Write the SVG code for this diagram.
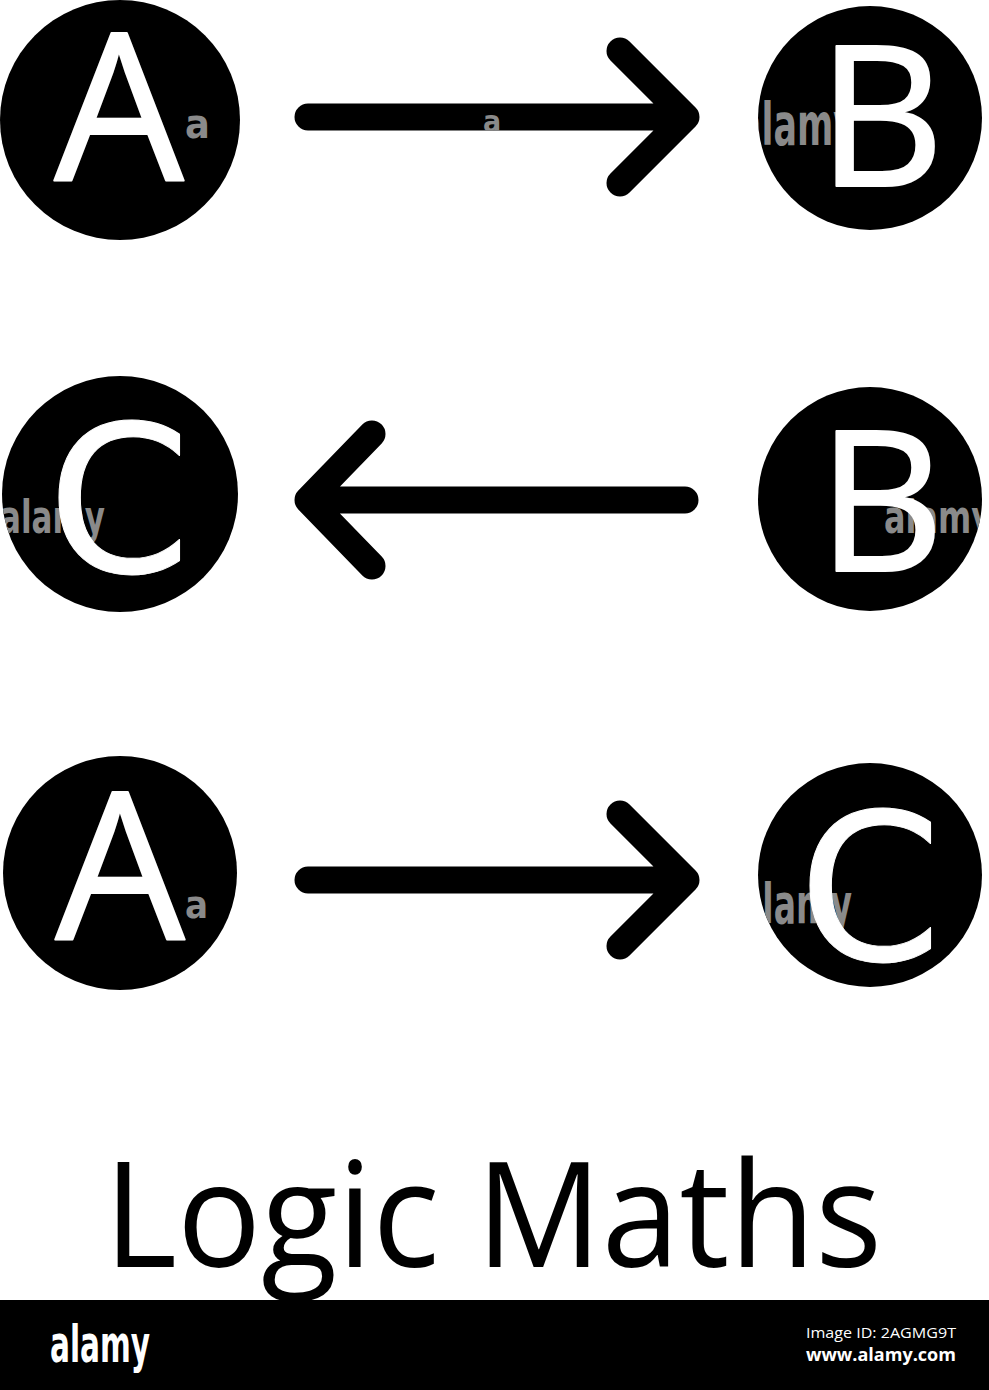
<svg xmlns="http://www.w3.org/2000/svg" width="989" height="1390" viewBox="0 0 989 1390">
<style>
.node{fill:#000}
.lt{font-family:"Open Sans","DejaVu Sans",sans-serif;fill:#fff;stroke:#fff;stroke-width:2;stroke-linejoin:round;text-anchor:middle}
.ltc{font-family:"DejaVu Sans","Open Sans",sans-serif;fill:#fff;stroke:#fff;stroke-width:1;stroke-linejoin:round;text-anchor:middle}
.wm{font-family:"DejaVu Sans",sans-serif;font-weight:bold;font-stretch:condensed;fill:#8a8a8a}
.conn{fill:none;stroke:#000;stroke-width:27;stroke-linecap:round;stroke-linejoin:round}
.title{font-family:"Open Sans","Noto Sans",sans-serif;fill:#000}
.foot{font-family:"Open Sans","Noto Sans",sans-serif;fill:#fff}
</style>
<defs>
<clipPath id="cpc">
<circle cx="120" cy="120" r="120"/>
<circle cx="870" cy="118" r="112"/>
<circle cx="120" cy="494" r="118"/>
<circle cx="870" cy="499" r="112"/>
<circle cx="120" cy="873" r="117"/>
<circle cx="870" cy="875" r="112"/>
</clipPath>
<clipPath id="cpa"><rect x="295" y="103.5" width="405" height="27"/></clipPath>
</defs>
<rect width="989" height="1390" fill="#fff"/>

<g id="node-A1">
<circle class="node" cx="120" cy="120" r="120"/>
<text class="wm" x="185" y="138" font-size="41" clip-path="url(#cpc)">a</text>
<text class="lt" x="119" y="181" font-size="205">A</text>
</g>
<g id="node-B1">
<circle class="node" cx="870" cy="118" r="112"/>
<text class="wm" x="738" y="145" font-size="58" textLength="118" lengthAdjust="spacingAndGlyphs" clip-path="url(#cpc)">alamy</text>
<text class="lt" x="881" y="186" font-size="197">B</text>
</g>
<g id="node-C2">
<circle class="node" cx="120" cy="494" r="118"/>
<text class="wm" x="0" y="533" font-size="46" textLength="105" lengthAdjust="spacingAndGlyphs" clip-path="url(#cpc)">alamy</text>
<text class="ltc" x="119" y="572" font-size="205">C</text>
</g>
<g id="node-B2">
<circle class="node" cx="870" cy="499" r="112"/>
<text class="wm" x="884" y="533" font-size="46" textLength="108" lengthAdjust="spacingAndGlyphs" clip-path="url(#cpc)">alamy</text>
<text class="lt" x="881" y="571" font-size="197">B</text>
</g>
<g id="node-A3">
<circle class="node" cx="120" cy="873" r="117"/>
<text class="wm" x="185" y="918" font-size="38" clip-path="url(#cpc)">a</text>
<text class="lt" x="120" y="940" font-size="205">A</text>
</g>
<g id="node-C3">
<circle class="node" cx="870" cy="875" r="112"/>
<text class="wm" x="740" y="923" font-size="56" textLength="112" lengthAdjust="spacingAndGlyphs" clip-path="url(#cpc)">alamy</text>
<text class="ltc" x="870" y="960" font-size="205">C</text>
</g>

<g id="connectors">
<path class="conn" d="M308 117 H686 M620 51 L686 117 L620 183"/>
<path class="conn" d="M685 500 H308 M372 434 L308 500 L372 566"/>
<path class="conn" d="M308 880 H686 M620 814 L686 880 L620 946"/>
<text class="wm" x="483" y="132" font-size="30" clip-path="url(#cpa)">a</text>
</g>

<text id="title" class="title" x="104" y="1267" font-size="146" textLength="778" lengthAdjust="spacingAndGlyphs">Logic Maths</text>

<g id="footer">
<rect x="0" y="1300" width="989" height="90" fill="#000"/>
<text class="wm" x="50" y="1362" font-size="52" style="fill:#fff" textLength="100" lengthAdjust="spacingAndGlyphs">alamy</text>
<text class="foot" x="806" y="1338" font-size="15" textLength="150" lengthAdjust="spacingAndGlyphs">Image ID: 2AGMG9T</text>
<text class="foot" x="806" y="1361" font-size="18" font-weight="bold" textLength="150" lengthAdjust="spacingAndGlyphs">www.alamy.com</text>
</g>
</svg>
